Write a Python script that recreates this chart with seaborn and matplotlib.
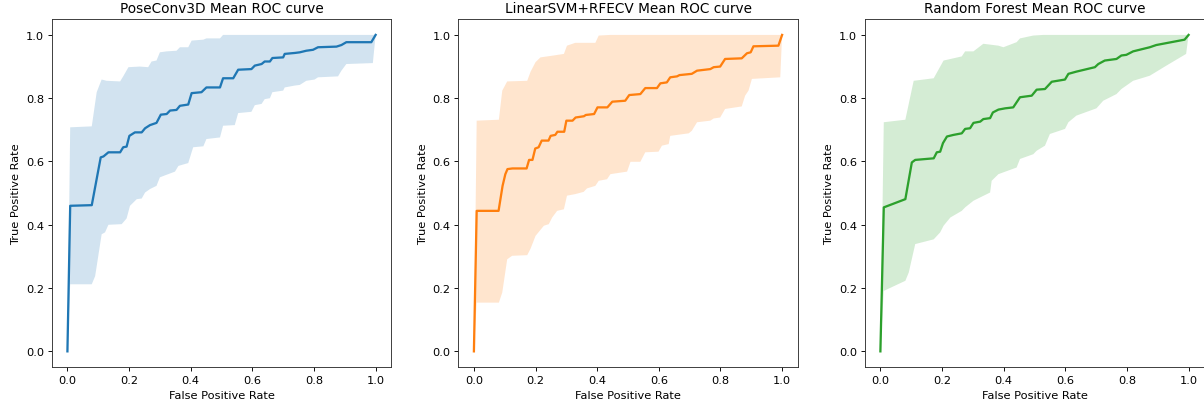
import numpy as np
import pandas as pd
import matplotlib
matplotlib.use("Agg")
import matplotlib.pyplot as plt
import seaborn as sns

# values (fpr, tpr)
titles = ["PoseConv3D Mean ROC curve", "LinearSVM+RFECV Mean ROC curve", "Random Forest Mean ROC curve"]
colors = ["#1f77b4", "#ff7f0e", "#2ca02c"]

# --- PoseConv3D
pose_mean_fpr = [0.0, 0.009, 0.079, 0.108, 0.117, 0.133, 0.171, 0.181, 0.192, 0.201, 0.219, 0.241, 0.252, 0.268,
                 0.289, 0.303, 0.322, 0.333, 0.354, 0.365, 0.392, 0.403, 0.435, 0.451, 0.495, 0.505, 0.538, 0.554,
                 0.597, 0.608, 0.630, 0.640, 0.657, 0.665, 0.700, 0.705, 0.738, 0.754, 0.775, 0.797, 0.813, 0.873,
                 0.889, 0.905, 0.986, 1.0]
pose_mean_tpr = [0.0, 0.460, 0.462, 0.613, 0.616, 0.629, 0.629, 0.645, 0.647, 0.681, 0.692, 0.692, 0.705, 0.715,
                 0.722, 0.748, 0.750, 0.761, 0.763, 0.776, 0.780, 0.816, 0.819, 0.834, 0.834, 0.863, 0.863, 0.890,
                 0.892, 0.903, 0.908, 0.916, 0.916, 0.927, 0.929, 0.940, 0.943, 0.945, 0.950, 0.953, 0.961, 0.963,
                 0.968, 0.977, 0.977, 1.0]
pose_up_fpr = [0.009, 0.079, 0.095, 0.111, 0.127, 0.171, 0.181, 0.198, 0.235, 0.262, 0.273, 0.289, 0.300, 0.322,
               0.354, 0.365, 0.392, 0.403, 0.441, 0.451, 0.495, 0.505]
pose_up_tpr = [0.708, 0.711, 0.819, 0.859, 0.855, 0.853, 0.869, 0.898, 0.900, 0.898, 0.916, 0.919, 0.945, 0.948,
               0.950, 0.961, 0.961, 0.982, 0.985, 0.989, 0.989, 1.0]
pose_lo_fpr = [0.009, 0.079, 0.090, 0.111, 0.122, 0.133, 0.176, 0.192, 0.203, 0.225, 0.241, 0.252, 0.268, 0.289,
               0.300, 0.327, 0.349, 0.360, 0.381, 0.392, 0.408, 0.441, 0.451, 0.495, 0.505, 0.543, 0.554, 0.597,
               0.608, 0.630, 0.640, 0.657, 0.665, 0.700, 0.705, 0.738, 0.754, 0.775, 0.802, 0.813, 0.878, 0.889,
               0.905, 0.991]
pose_lo_tpr = [0.212, 0.212, 0.238, 0.370, 0.376, 0.400, 0.402, 0.420, 0.460, 0.481, 0.483, 0.502, 0.513, 0.523,
               0.550, 0.560, 0.568, 0.586, 0.592, 0.595, 0.645, 0.648, 0.671, 0.676, 0.713, 0.715, 0.753, 0.757,
               0.778, 0.782, 0.797, 0.800, 0.819, 0.824, 0.834, 0.840, 0.842, 0.855, 0.859, 0.866, 0.869, 0.887,
               0.908, 0.911]

# --- LinearSVM+RFECV
svm_mean_fpr = [0.0, 0.009, 0.080, 0.093, 0.102, 0.109, 0.125, 0.171, 0.179, 0.190, 0.199, 0.210, 0.220, 0.242,
                0.249, 0.264, 0.271, 0.293, 0.300, 0.320, 0.330, 0.357, 0.363, 0.390, 0.401, 0.433, 0.449, 0.491,
                0.504, 0.540, 0.556, 0.594, 0.605, 0.626, 0.637, 0.659, 0.667, 0.707, 0.724, 0.767, 0.778, 0.799,
                0.815, 0.869, 0.886, 0.898, 0.907, 0.988, 1.0]
svm_mean_tpr = [0.0, 0.444, 0.444, 0.523, 0.560, 0.576, 0.578, 0.578, 0.605, 0.605, 0.641, 0.645, 0.666, 0.666,
                0.681, 0.684, 0.694, 0.694, 0.729, 0.729, 0.739, 0.743, 0.747, 0.750, 0.771, 0.771, 0.789, 0.792,
                0.810, 0.813, 0.832, 0.832, 0.847, 0.850, 0.866, 0.869, 0.873, 0.877, 0.887, 0.892, 0.898, 0.900,
                0.924, 0.926, 0.942, 0.945, 0.964, 0.966, 1.0]
svm_up_fpr = [0.009, 0.081, 0.092, 0.108, 0.173, 0.184, 0.200, 0.216, 0.259, 0.292, 0.302, 0.329, 0.394, 0.405,
              0.443]
svm_up_tpr = [0.729, 0.732, 0.824, 0.853, 0.855, 0.884, 0.914, 0.929, 0.935, 0.940, 0.966, 0.975, 0.975, 0.998,
              1.0]
svm_lo_fpr = [0.009, 0.081, 0.092, 0.108, 0.124, 0.173, 0.184, 0.200, 0.227, 0.243, 0.254, 0.270, 0.292, 0.302,
              0.329, 0.356, 0.367, 0.394, 0.405, 0.432, 0.443, 0.497, 0.508, 0.540, 0.556, 0.599, 0.610, 0.632,
              0.637, 0.697, 0.707, 0.724, 0.767, 0.778, 0.799, 0.815, 0.869, 0.880, 0.891, 0.902, 0.994]
svm_lo_tpr = [0.154, 0.154, 0.186, 0.291, 0.302, 0.304, 0.325, 0.365, 0.397, 0.402, 0.423, 0.444, 0.449, 0.492,
              0.497, 0.504, 0.515, 0.523, 0.539, 0.544, 0.560, 0.568, 0.599, 0.599, 0.629, 0.631, 0.650, 0.655,
              0.681, 0.689, 0.697, 0.724, 0.729, 0.736, 0.739, 0.766, 0.774, 0.808, 0.824, 0.861, 0.866]

# --- Random Forest
rf_mean_fpr = [0.0, 0.011, 0.081, 0.102, 0.113, 0.173, 0.183, 0.194, 0.203, 0.216, 0.237, 0.264, 0.275, 0.291,
               0.302, 0.324, 0.334, 0.356, 0.365, 0.383, 0.405, 0.431, 0.453, 0.491, 0.507, 0.534, 0.556, 0.599,
               0.610, 0.636, 0.696, 0.707, 0.728, 0.766, 0.782, 0.798, 0.820, 0.874, 0.895, 0.987, 1.0]
rf_mean_tpr = [0.0, 0.455, 0.481, 0.597, 0.605, 0.610, 0.629, 0.631, 0.658, 0.679, 0.684, 0.689, 0.703, 0.705,
               0.722, 0.726, 0.734, 0.737, 0.755, 0.764, 0.768, 0.771, 0.803, 0.808, 0.827, 0.829, 0.852, 0.859,
               0.877, 0.884, 0.898, 0.908, 0.919, 0.924, 0.935, 0.937, 0.948, 0.961, 0.968, 0.985, 1.0]
rf_up_fpr = [0.011, 0.081, 0.108, 0.173, 0.205, 0.264, 0.275, 0.302, 0.334, 0.383, 0.399, 0.442, 0.453, 0.496,
             0.529]
rf_up_tpr = [0.724, 0.732, 0.855, 0.863, 0.919, 0.932, 0.948, 0.948, 0.972, 0.966, 0.961, 0.977, 0.989, 0.998,
             1.0]
rf_lo_fpr = [0.011, 0.081, 0.092, 0.113, 0.173, 0.194, 0.205, 0.227, 0.264, 0.275, 0.302, 0.356, 0.361, 0.383,
             0.442, 0.453, 0.496, 0.507, 0.534, 0.550, 0.599, 0.610, 0.636, 0.701, 0.723, 0.766, 0.782, 0.820,
             0.874, 0.928, 0.992]
rf_lo_tpr = [0.191, 0.223, 0.249, 0.339, 0.354, 0.376, 0.397, 0.423, 0.444, 0.455, 0.476, 0.502, 0.539, 0.560,
             0.581, 0.608, 0.623, 0.634, 0.650, 0.687, 0.703, 0.724, 0.745, 0.768, 0.792, 0.813, 0.829, 0.855,
             0.871, 0.903, 0.940]

models = [
    (pose_mean_fpr, pose_mean_tpr, pose_up_fpr, pose_up_tpr, pose_lo_fpr, pose_lo_tpr),
    (svm_mean_fpr, svm_mean_tpr, svm_up_fpr, svm_up_tpr, svm_lo_fpr, svm_lo_tpr),
    (rf_mean_fpr, rf_mean_tpr, rf_up_fpr, rf_up_tpr, rf_lo_fpr, rf_lo_tpr),
]

# the reference looks like a shrunk-down screenshot, so everything is ~0.82 of default size
s = 0.82
plt.rcParams.update({
    "font.size": 10 * s,
    "axes.linewidth": 0.8 * s,
    "xtick.major.size": 3.5 * s,
    "ytick.major.size": 3.5 * s,
    "xtick.major.width": 0.8 * s,
    "ytick.major.width": 0.8 * s,
    "xtick.major.pad": 3.5 * s,
    "ytick.major.pad": 3.5 * s,
    "axes.labelpad": 4 * s,
    "axes.titlepad": 6 * s,
    "axes.edgecolor": "#333333",
})

fig, axes = plt.subplots(1, 3, figsize=(12.04, 4.10), dpi=100)
fig.subplots_adjust(left=0.0432, right=1.0, bottom=0.102, top=0.951, wspace=0.199)

for ax, title, color, m in zip(axes, titles, colors, models):
    mf, mt, uf, ut, lf, lt = m
    # std band as a polygon: upper edge forwards, lower edge back
    band_x = [0.0] + uf + [1.0] + lf[::-1] + [0.0]
    band_y = [0.0] + ut + [1.0] + lt[::-1] + [0.0]
    ax.fill(band_x, band_y, color=color, alpha=0.2, linewidth=0)
    df = pd.DataFrame({"fpr": mf, "tpr": mt})
    sns.lineplot(data=df, x="fpr", y="tpr", ax=ax, color=color, lw=2 * s, sort=False, estimator=None)
    ax.set_xlim(-0.05, 1.05)
    ax.set_ylim(-0.05, 1.05)
    ax.set_xticks([0.0, 0.2, 0.4, 0.6, 0.8, 1.0])
    ax.set_yticks([0.0, 0.2, 0.4, 0.6, 0.8, 1.0])
    ax.set_title(title, fontsize=12 * s)
    ax.set_xlabel("False Positive Rate")
    ax.set_ylabel("True Positive Rate")

fig.savefig("out.png", dpi=100)
